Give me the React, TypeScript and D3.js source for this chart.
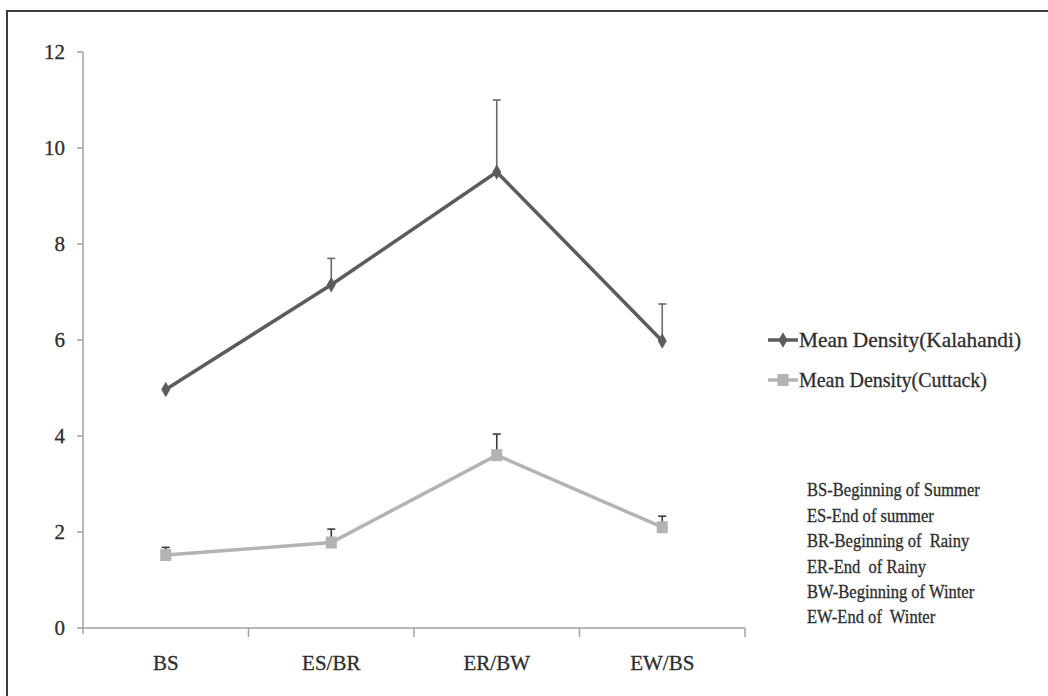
import React from 'react';
import * as d3 from 'd3';

const categories = ['BS', 'ES/BR', 'ER/BW', 'EW/BS'];
const kalahandi = [4.97, 7.15, 9.5, 5.98];
const kalahandiErr = [0.0, 0.55, 1.5, 0.77];
const cuttack = [1.52, 1.78, 3.6, 2.1];
const cuttackErr = [0.16, 0.28, 0.44, 0.23];
const yTicks = [0, 2, 4, 6, 8, 10, 12];
const seriesNames = ['Mean Density(Kalahandi)', 'Mean Density(Cuttack)'];
const notes = [
  'BS-Beginning of Summer',
  'ES-End of summer',
  'BR-Beginning of  Rainy',
  'ER-End  of Rainy',
  'BW-Beginning of Winter',
  'EW-End of  Winter',
];

const W = 1048;
const H = 696;
const FONT = '"Liberation Serif", "Times New Roman", serif';
const TXT = '#2e2e2e';

const App = () => {
  const x = d3.scaleBand().domain(categories).range([83, 745]).padding(0);
  const y = d3.scaleLinear().domain([0, 12]).range([628, 52]);
  const cx = (c: string) => (x(c) as number) + x.bandwidth() / 2;

  const line = d3
    .line<number>()
    .x((_, i) => cx(categories[i]))
    .y((d) => y(d));

  const diamond = d3.symbol().type(d3.symbolDiamond).size(70);

  const series = [
    { name: seriesNames[0], values: kalahandi, err: kalahandiErr, color: '#5c5c5c', errColor: '#6a6a6a', marker: 'diamond' },
    { name: seriesNames[1], values: cuttack, err: cuttackErr, color: '#b3b3b3', errColor: '#3a3a3a', marker: 'square' },
  ];

  const textProps = { fontFamily: FONT, fill: TXT, stroke: TXT, strokeWidth: 0.3 };

  return (
    <svg width={W} height={H} style={{ position: 'absolute', left: 0, top: 0, background: '#fff' }}>
      {/* frame */}
      <rect x={7} y={11} width={W} height={H} fill="none" stroke="#3c3c3c" strokeWidth={2} />

      {/* y axis */}
      <line x1={83} x2={83} y1={y(12)} y2={y(0) + 6} stroke="#a0a0a0" strokeWidth={1.5} />
      {yTicks.map((t) => (
        <g key={t}>
          <line x1={77} x2={83} y1={y(t)} y2={y(t)} stroke="#a0a0a0" strokeWidth={1.5} />
          <text x={65} y={y(t)} dy="0.35em" textAnchor="end" fontSize={21} {...textProps}>
            {t}
          </text>
        </g>
      ))}

      {/* x axis */}
      <line x1={83} x2={745} y1={y(0)} y2={y(0)} stroke="#a0a0a0" strokeWidth={1.5} />
      {categories.map((c) => (
        <g key={c}>
          <line x1={(x(c) as number) + x.bandwidth()} x2={(x(c) as number) + x.bandwidth()} y1={y(0)} y2={y(0) + 9} stroke="#a0a0a0" strokeWidth={1.5} />
          <text x={cx(c)} y={663} dy="0.35em" textAnchor="middle" fontSize={21} {...textProps}>
            {c}
          </text>
        </g>
      ))}

      {/* series */}
      {series.map((s) => (
        <g key={s.name}>
          {s.values.map((v, i) =>
            s.err[i] > 0 ? (
              <g key={i}>
                <line x1={cx(categories[i])} x2={cx(categories[i])} y1={y(v)} y2={y(v + s.err[i])} stroke={s.errColor} strokeWidth={1.6} />
                <line x1={cx(categories[i]) - 4} x2={cx(categories[i]) + 4} y1={y(v + s.err[i])} y2={y(v + s.err[i])} stroke={s.errColor} strokeWidth={1.6} />
              </g>
            ) : null
          )}
          <path d={line(s.values) || ''} fill="none" stroke={s.color} strokeWidth={3.5} />
          {s.values.map((v, i) =>
            s.marker === 'diamond' ? (
              <path key={i} d={diamond() || ''} transform={`translate(${cx(categories[i])},${y(v)})`} fill={s.color} />
            ) : (
              <rect key={i} x={cx(categories[i]) - 5.5} y={y(v) - 6} width={11} height={12} fill={s.color} />
            )
          )}
        </g>
      ))}

      {/* legend */}
      {series.map((s, i) => {
        const ly = 340 + i * 40;
        return (
          <g key={s.name}>
            <line x1={768} x2={798} y1={ly} y2={ly} stroke={s.color} strokeWidth={3.5} />
            {s.marker === 'diamond' ? (
              <path d={diamond() || ''} transform={`translate(783,${ly})`} fill={s.color} />
            ) : (
              <rect x={777.5} y={ly - 6} width={11} height={12} fill={s.color} />
            )}
            <text x={799} y={ly} dy="0.35em" fontSize={21} {...textProps} textLength={i === 0 ? 222 : 188} lengthAdjust="spacingAndGlyphs">
              {s.name}
            </text>
          </g>
        );
      })}

      {/* notes */}
      {notes.map((n, i) => (
        <text
          key={n}
          transform={`translate(807,${490 + i * 25.4}) scale(0.92,1)`}
          dy="0.35em"
          fontSize={18}
          {...textProps}
          style={{ whiteSpace: 'pre' }}
        >
          {n}
        </text>
      ))}
    </svg>
  );
};

export default App;
